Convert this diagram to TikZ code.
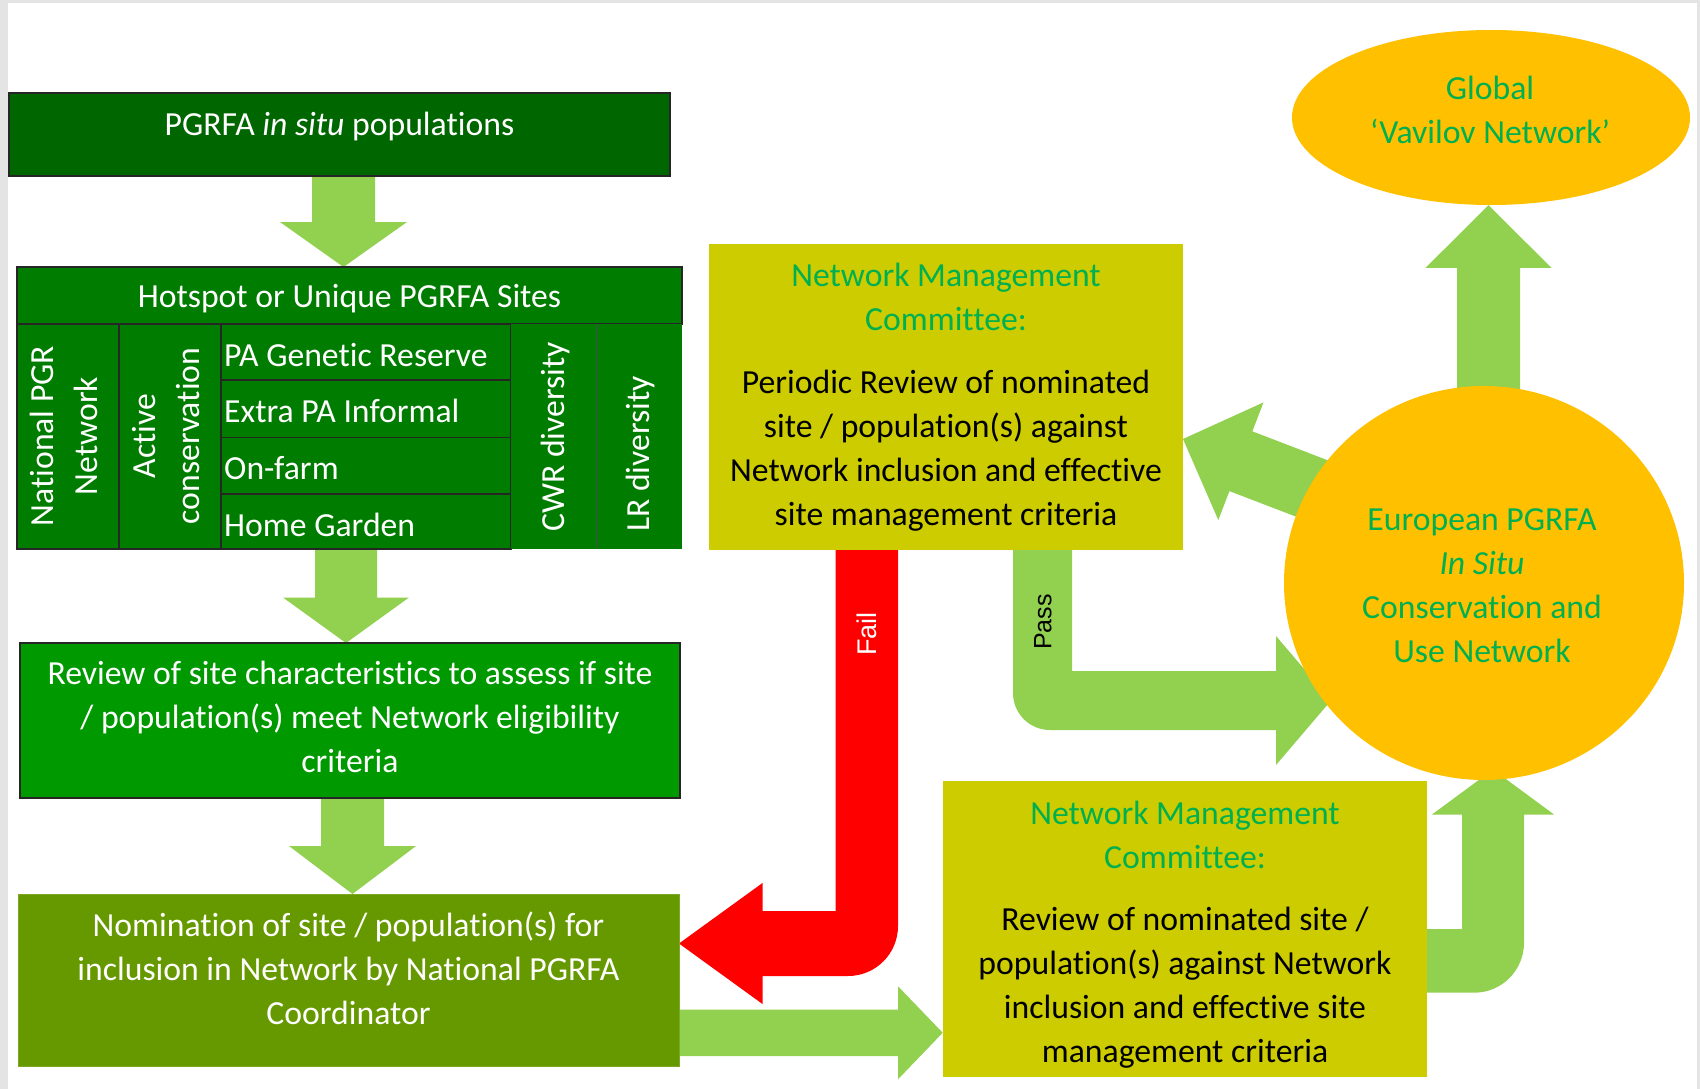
\documentclass[tikz,border=0pt]{standalone}
\usepackage{fontspec}
\setmainfont{Carlito}[Ligatures={NoCommon,NoRare,NoContextual}]
\newfontfamily\arialfont{Liberation Sans}
\usetikzlibrary{calc,shapes.geometric}
\definecolor{dkgreen}{RGB}{0,102,0}
\definecolor{hotgreen}{RGB}{0,124,0}
\definecolor{revgreen}{RGB}{0,153,0}
\definecolor{nomgreen}{RGB}{102,153,0}
\definecolor{mgmtyellow}{RGB}{204,204,0}
\definecolor{amber}{RGB}{255,192,0}
\definecolor{lgreen}{RGB}{146,208,80}
\definecolor{titlegreen}{RGB}{0,176,80}
\definecolor{failred}{RGB}{255,0,0}
\definecolor{framegray}{RGB}{228,228,228}
\pgfdeclarelayer{back}
\pgfdeclarelayer{arrowlayer}
\pgfsetlayers{back,arrowlayer,main}
% #1 tip, #2 angle tip->tail, #3 length, #4 shaft half, #5 head half, #6 head length, #7 colour
\newcommand\blockarrow[7]{\fill[#7,shift={#1},rotate=#2] (0,0) -- (#6,#5) -- (#6,#4) -- (#3,#4) -- (#3,-#4) -- (#6,-#4) -- (#6,-#5) -- cycle;}
\tikzset{
  boxshape/.style={rectangle, inner sep=0pt, outer sep=0pt, draw=black!85, line width=1.5pt},
  plainshape/.style={rectangle, inner sep=0pt, outer sep=0pt},
  txt/.style={font=\fontsize{33.7}{44}\selectfont, inner sep=0pt, align=center},
  smalltxt/.style={font=\arialfont\fontsize{25}{30}\selectfont, inner sep=0pt},
}
\begin{document}
\begin{tikzpicture}[x=1pt,y=-1pt]
\useasboundingbox (0,0) rectangle (1700,1089);
\begin{pgfonlayer}{back}
  \fill[white] (0,0) rectangle (1700,1089);
  \fill[framegray] (0,0) rectangle (8,1089);
  \fill[framegray] (0,0) rectangle (1700,3.5);
  \fill[framegray] (1697,0) rectangle (1700,1089);
\end{pgfonlayer}

% ---------- left column boxes ----------
\node[boxshape, fill=dkgreen, minimum width=661pt, minimum height=83pt] (box1) at (339.5,134.5) {};
\node[boxshape, fill=hotgreen, minimum width=665pt, minimum height=57pt] (hdr) at (349.5,295.5) {};
\node[boxshape, fill=hotgreen, minimum width=102pt, minimum height=225pt] (col1) at (68,436.5) {};
\node[boxshape, fill=hotgreen, minimum width=102pt, minimum height=225pt] (col2) at (170,436.5) {};
\node[boxshape, fill=hotgreen, minimum width=290pt, minimum height=56pt] (rowa) at (366,352) {};
\node[boxshape, fill=hotgreen, minimum width=290pt, minimum height=57.5pt] (rowb) at (366,408.75) {};
\node[boxshape, fill=hotgreen, minimum width=290pt, minimum height=56.5pt] (rowc) at (366,465.75) {};
\node[boxshape, fill=hotgreen, minimum width=290pt, minimum height=55pt] (rowd) at (366,521.5) {};
\node[plainshape, fill=hotgreen, minimum width=85pt, minimum height=225pt] (col4) at (553.5,436.5) {};
\node[plainshape, fill=hotgreen, minimum width=86pt, minimum height=225pt] (col5) at (639,436.5) {};
\draw[black!70, line width=1pt] (col4.north east) -- (col4.south east);
\node[boxshape, fill=revgreen, minimum width=660pt, minimum height=155pt] (box3) at (350,720.5) {};
\node[boxshape, draw=nomgreen!85!white, line width=1pt, fill=nomgreen, minimum width=661pt, minimum height=172pt] (box4) at (348.5,980) {};

% ---------- right side ----------
\node[plainshape, fill=mgmtyellow, minimum width=474pt, minimum height=306pt] (boxU) at (946,396.6) {};
\node[plainshape, fill=mgmtyellow, minimum width=484.3pt, minimum height=296.4pt] (box5) at (1184.85,928.8) {};
\node[ellipse, inner sep=0pt, fill=amber, minimum width=400pt, minimum height=394pt] (euro) at (1484,583) {};
\node[ellipse, inner sep=0pt, fill=amber, minimum width=398pt, minimum height=175pt] (glob) at (1491,117.5) {};

% ---------- texts ----------
\node[txt, text=white] (t1) at (339.5,127) {PGRFA \textit{in situ} populations};
\node[txt, text=white] (thdr) at (349.5,299) {Hotspot or Unique PGRFA Sites};
\node[txt, text=white, rotate=90] (tnat) at (63.5,436) {National PGR\\Network};
\node[txt, text=white, rotate=90] (tact) at (166,436) {Active\\conservation};
\node[txt, text=white, anchor=west] (tra) at (224,355) {PA Genetic Reserve};
\node[txt, text=white, anchor=west] (trb) at (224,410.5) {Extra PA Informal};
\node[txt, text=white, anchor=west] (trc) at (224,468) {On-farm};
\node[txt, text=white, anchor=west] (trd) at (224,525) {Home Garden};
\node[txt, text=white, rotate=90, anchor=west] (tcwr) at (556,532) {CWR diversity};
\node[txt, text=white, rotate=90, anchor=west] (tlr) at (641,532) {LR diversity};
\node[txt, text=white] (t3) at (350,717) {Review of site characteristics to assess if site\\/ population(s) meet Network eligibility\\criteria};
\node[txt, text=white] (t4) at (348.5,968) {Nomination of site / population(s) for\\inclusion in Network by National PGRFA\\Coordinator};
\node[txt, text=titlegreen] (tUt) at (946,296.5) {Network Management\\Committee:};
\node[txt, text=black] (tUb) at (946,450.5) {Periodic Review of nominated\\site / population(s) against\\Network inclusion and effective\\site management criteria};
\node[txt, text=titlegreen] (t5t) at (1185,835) {Network Management\\Committee:};
\node[txt, text=black] (t5b) at (1185,987.7) {Review of nominated site /\\population(s) against Network\\inclusion and effective site\\management criteria};
\node[txt, text=titlegreen] (teuro) at (1482,585.5) {European PGRFA\\\textit{In Situ}\\Conservation and\\Use Network};
\node[txt, text=titlegreen] (tglob) at (1490,110) {Global\\‘Vavilov Network’};

% ---------- arrows ----------
\begin{pgfonlayer}{arrowlayer}
  \coordinate (a1tip) at (hdr.north -| 343.5,0);
  \coordinate (a2tip) at (box3.north -| 346,0);
  \coordinate (a3tip) at (box4.north -| 352.5,0);
  \coordinate (auptip) at (glob.south -| 1488.5,0);
  \coordinate (a4tip) at (box5.west |- 0,1032.75);
  \coordinate (adtip) at (boxU.east |- 0,439);
  \blockarrow{(a1tip)}{90}{91}{31.5}{63.5}{45}{lgreen}
  \blockarrow{(a2tip)}{90}{94}{31}{63}{45.5}{lgreen}
  \blockarrow{(a3tip)}{90}{96}{31.5}{63.5}{48}{lgreen}
  \blockarrow{(auptip)}{-90}{195}{31.5}{63}{62.7}{lgreen}
  \blockarrow{(a4tip)}{180}{265}{23.25}{46.5}{44.7}{lgreen}
  \blockarrow{(adtip)}{-21}{200}{32}{63}{62}{lgreen}
  % Fail (red L arrow) from boxU to box4
  \fill[failred] (boxU.south -| 835.5,0) -- (boxU.south -| 898,0) -- (898,926) to[out=-90,in=0] (848,976)
     -- (762.5,976) -- (762.5,1004) -- (box4.east |- 0,943.5) -- (762.5,883) -- (762.5,911) -- (835.5,911) -- cycle;
  % Pass arrow from boxU to euro
  \fill[lgreen] (boxU.south -| 1013,0) -- (boxU.south -| 1072,0) -- (1072,671) -- (1276,671) -- (1276,636)
     -- (1331,700.5) -- (1276,765) -- (1276,730) -- (1050,730) to[out=180,in=-90] (1013,693) -- cycle;
  % box5 to euro
  \fill[lgreen] (box5.east |- 0,929) -- (1462,929) -- (1462,814.5) -- (1432,814.5) -- (1493,769.5)
     -- (1554,814.5) -- (1524,814.5) -- (1524,942.7) to[out=-90,in=0] (1474,992.7) -- (box5.east |- 0,992.7) -- cycle;
\end{pgfonlayer}
\node[smalltxt, text=white, rotate=90, font=\arialfont\fontsize{27}{30}\selectfont] (tfail) at (866.5,634) {Fail};
\node[smalltxt, text=black, rotate=90] (tpass) at (1043,622) {Pass};
\end{tikzpicture}
\end{document}
